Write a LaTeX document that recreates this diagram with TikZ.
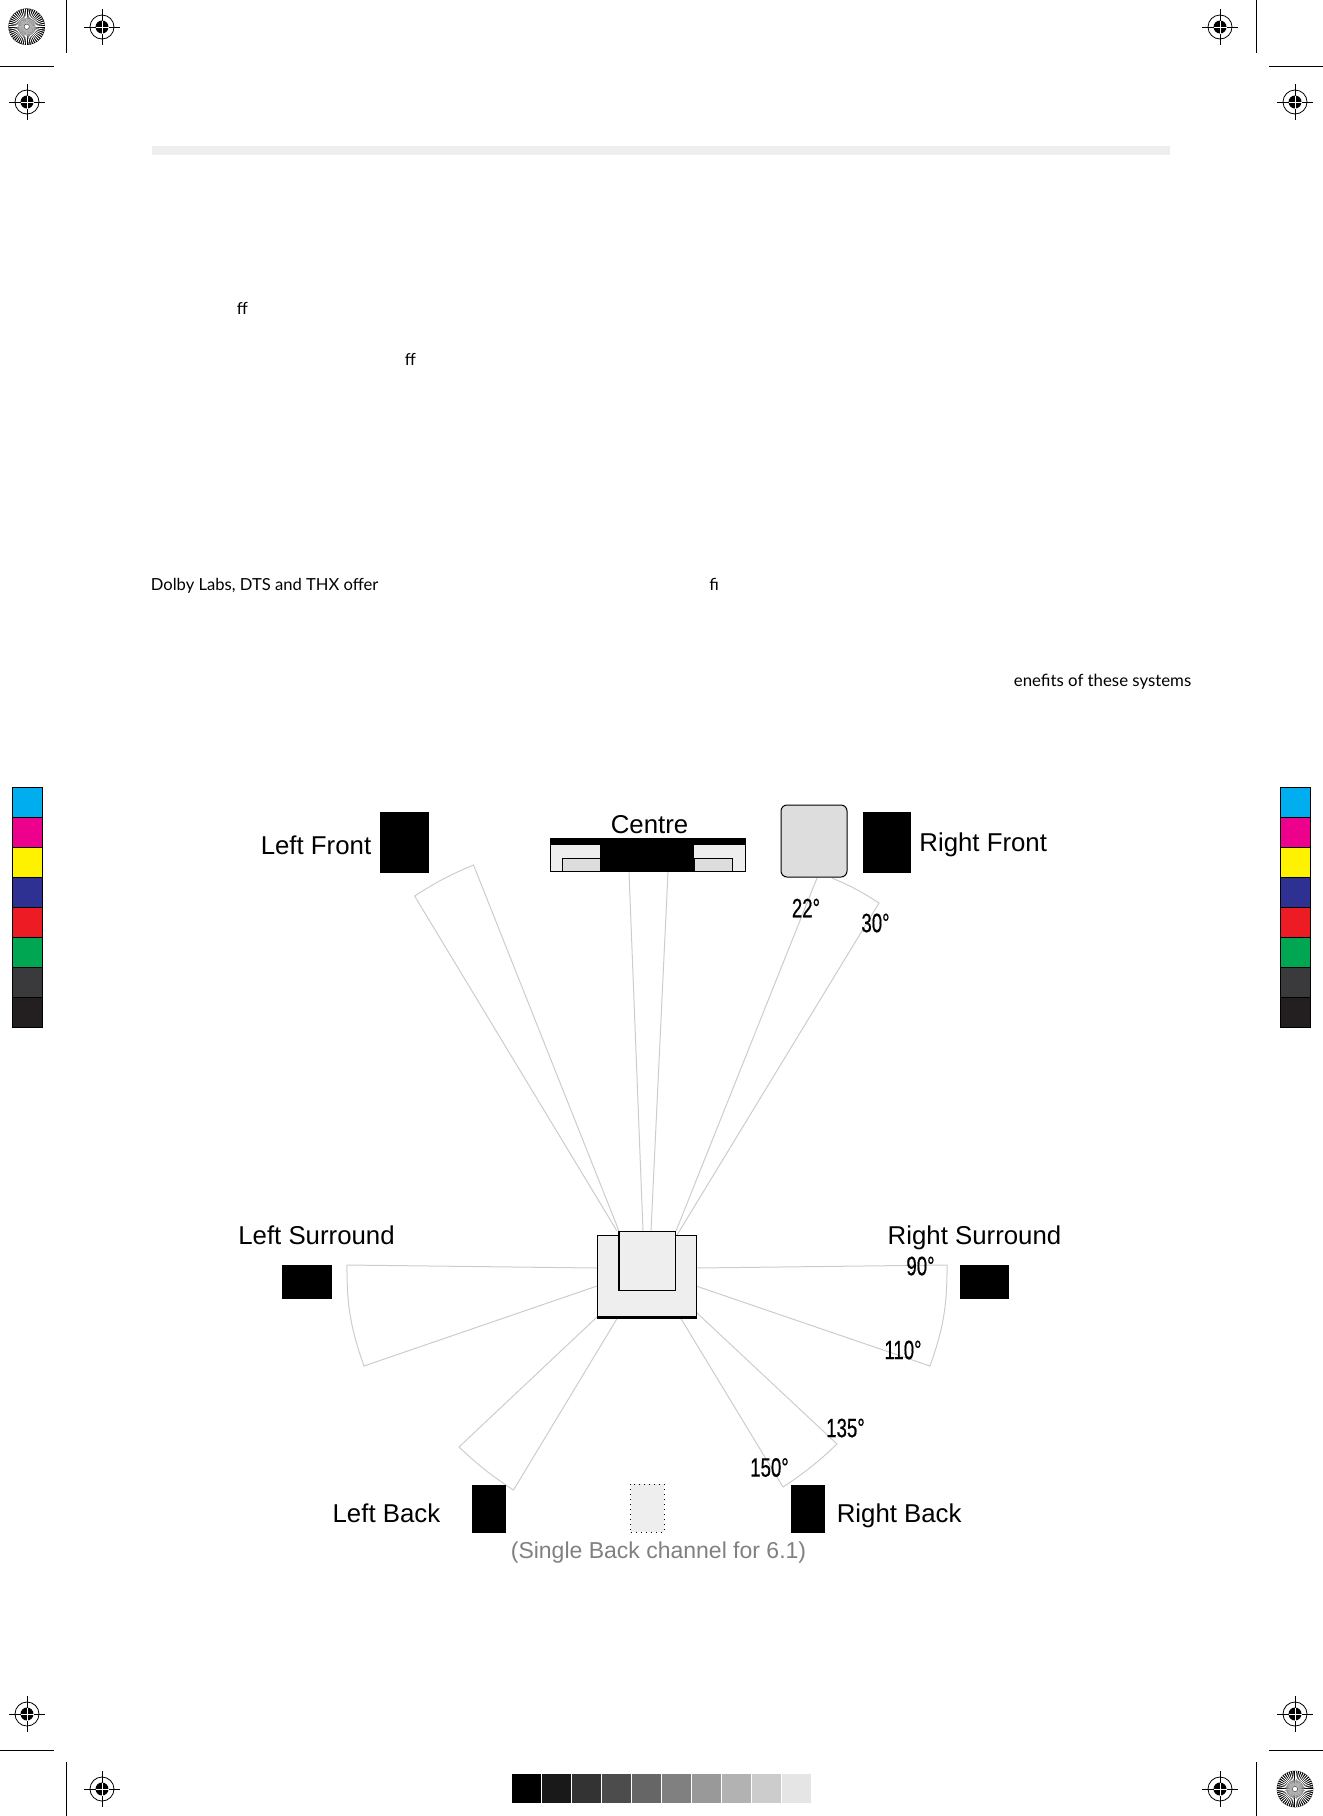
\documentclass[tikz,border=0pt]{standalone}
\usepackage{fontspec}
\usepackage{xcolor}
\setmainfont{Liberation Sans}
\newfontfamily\bodyfont{Lato}
\newfontfamily\degfont[FakeStretch=0.7,FakeBold=0.5]{Liberation Sans}
\usetikzlibrary{positioning}
\definecolor{pcyan}{HTML}{00AEEF}
\definecolor{pmagenta}{HTML}{EC008C}
\definecolor{pyellow}{HTML}{FFF200}
\definecolor{pblue}{HTML}{2E3192}
\definecolor{pred}{HTML}{ED1C24}
\definecolor{pgreen}{HTML}{00A651}
\definecolor{pdark}{HTML}{3A3A3C}
\definecolor{pblack}{HTML}{231F20}
\definecolor{panel}{HTML}{EEEEEE}
\definecolor{inset}{HTML}{DDDDDD}

\begin{document}
\begin{tikzpicture}[x=0.5pt, y=-0.5pt,
    speaker/.style={fill=black, inner sep=0},
    boxed/.style={draw=black, line width=0.5pt, fill=panel, inner sep=0},
    beam/.style={draw=black!20, line width=0.5pt},
    spklabel/.style={inner sep=0, text height=9pt, text depth=2.5pt, font=\fontsize{12.9}{15}\selectfont},
    deglabel/.style={inner sep=0, font=\degfont\fontsize{13.3}{15}\selectfont},
    bodytext/.style={inner sep=0, anchor=base west, font=\bodyfont\fontsize{8.3}{10}\selectfont},
    patch/.style={draw=black, line width=0.5pt, inner sep=0, minimum width=14.8pt, minimum height=15pt},
    regmark/.pic={
        \draw[line width=0.4pt] (0,0) circle [radius=12];
        \draw[line width=0.5pt] (-18,0) -- (18,0) (0,-18) -- (0,18);
        \fill (0,0) circle [radius=6.5];
        \draw[white, line width=0.5pt] (-6.5,0) -- (6.5,0) (0,-6.5) -- (0,6.5);
    },
    wheel/.pic={
        \fill (0,0) circle [radius=18.3];
        \foreach \a in {0,7.5,...,352.5}
            \draw[white, line width=0.4pt] (\a:3) -- (\a:18);
        \fill[black!50, opacity=0.6] (0,0) circle [radius=9];
        \fill[white] (0,0) circle [radius=2.2];
    }]
    \useasboundingbox (0,0) rectangle (1323,1816);

    \pic at (26.7,26.7) {wheel};
    \pic at (1295,1789) {wheel};
    \foreach \x/\y in {102/27, 27/102, 1220/27, 1295/102, 27/1714, 102/1789, 1295/1714, 1220/1789}
        \pic at (\x,\y) {regmark};
    \foreach \x in {66,1256} {
        \draw[line width=0.5pt] (\x,0) -- (\x,53);
        \draw[line width=0.5pt] (\x,1762) -- (\x,1816);
    }
    \foreach \y in {66,1750} {
        \draw[line width=0.5pt] (0,\y) -- (54,\y);
        \draw[line width=0.5pt] (1269,\y) -- (1323,\y);
    }

    \foreach \x/\n in {27.5/l, 1295.5/r}
        \foreach \c [count=\i from 0] in {pcyan,pmagenta,pyellow,pblue,pred,pgreen,pdark,pblack}
            \node [patch, fill=\c] (strip\n\i) at (\x,{802+30*\i}) {};
    \foreach \g [count=\i from 0] in {100,90,...,10}
        \node [fill=black!\g, inner sep=0, minimum size=14.5pt] (grey\i) at ({526.5+30*\i},1788) {};

    \node [fill=panel, inner sep=0, minimum width=509pt, minimum height=4.5pt] (topbar) at (661,150.5) {};
    \node [bodytext] (ffa) at (236.5,314.5) {ff};
    \node [bodytext] (ffb) at (404.5,365.5) {ff};
    \node [bodytext] (dolby) at (150.5,590) {Dolby Labs, DTS and THX offer};
    \node [bodytext] (fi) at (709,590) {fi};
    \node [bodytext, font=\bodyfont\fontsize{8.4}{10}\selectfont] (benefits) at (1013.5,686) {enefits of these systems};

    \path [beam] (414.6,896) -- (617,1231) (414.6,896) to[bend left=5] (473.5,865) -- (619,1231);
    \path [beam] (629,872) -- (643,1231) (668,872) -- (651,1231);
    \path [beam] (817,878) -- (676,1231) (832,878) to[bend left=5] (879,903) -- (677,1235);
    \path [beam] (597,1268) -- (347,1265) to[bend right=10] (364,1366) -- (597,1286);
    \path [beam] (696,1268) -- (947,1265) to[bend left=10] (930,1366) -- (696,1286);
    \path [beam] (597,1317) -- (459,1447) to[bend right=5] (513.5,1490) -- (618,1317);
    \path [beam] (696,1312) -- (837,1444) to[bend left=5] (783,1487) -- (680,1317);

    \node [speaker, minimum width=24.5pt, minimum height=30.5pt] (leftfront) at (404.5,842.5) {};
    \node [speaker, minimum width=24pt, minimum height=30.5pt] (rightfront) at (887,842.5) {};
    \node [boxed, fill=inset, rounded corners=3pt, minimum width=33pt, minimum height=36pt] (rightbox) at (814,841) {};
    \node [boxed, minimum width=97.5pt, minimum height=16.35pt] (centre) at (647.5,855.3) {};
    \node [boxed, fill=inset, minimum width=19pt, minimum height=6.85pt] (centrel) at (581,864.85) {};
    \node [boxed, fill=inset, minimum width=19pt, minimum height=6.85pt] (centrer) at (713,864.85) {};
    \node [speaker, minimum width=97.5pt, minimum height=3pt] (centreband) at (647.5,842) {};
    \node [speaker, minimum width=47pt, minimum height=16.35pt] (centremid) at (647,855.3) {};
    \node [speaker, minimum width=25pt, minimum height=17pt] (leftsur) at (307,1282) {};
    \node [speaker, minimum width=24.5pt, minimum height=17pt] (rightsur) at (984.5,1282) {};
    \node [speaker, minimum width=17pt, minimum height=24pt] (leftback) at (489,1509) {};
    \node [speaker, minimum width=17pt, minimum height=24pt] (rightback) at (808,1509) {};
    \node [draw=black, dotted, line width=0.5pt, fill=panel, inner sep=0, minimum width=16.7pt, minimum height=24pt] (single) at (647.3,1508) {};

    \node [boxed, minimum width=49.5pt, minimum height=41pt] (seat) at (646.5,1276) {};
    \draw [line width=1.3pt] (seat.south west) -- (seat.south east);
    \node [boxed, minimum width=28pt, minimum height=29.5pt] (head) at (647,1260.5) {};
    \draw [line width=1pt] (head.north west) -- (head.south west);

    \node [spklabel, left=4pt of leftfront, yshift=-2.5pt] (lftext) {Left Front};
    \node [spklabel, right=3.8pt of rightfront, yshift=-1pt] (rftext) {Right Front};
    \node [spklabel, above=-0.4pt of centre, xshift=1pt] (ctext) {Centre};
    \node [spklabel, above=7.5pt of leftsur, xshift=4.75pt] (lstext) {Left Surround};
    \node [spklabel, above=7.5pt of rightsur, xshift=-5pt] (rstext) {Right Surround};
    \node [spklabel, left=15.5pt of leftback, yshift=-3.25pt] (lbtext) {Left Back};
    \node [spklabel, right=5.5pt of rightback, yshift=-3.25pt] (rbtext) {Right Back};
    \node [spklabel, below=4pt of single, xshift=5.6pt, text=black!50, font=\fontsize{11.5}{14}\selectfont] (singletext) {(Single Back channel for 6.1)};

    \node [deglabel] (d22) at (806,908) {22°};
    \node [deglabel] (d30) at (875.5,923) {30°};
    \node [deglabel] (d90) at (920.5,1266) {90°};
    \node [deglabel] (d110) at (903,1350) {110°};
    \node [deglabel] (d135) at (845.5,1428) {135°};
    \node [deglabel] (d150) at (769.5,1467.5) {150°};
\end{tikzpicture}
\end{document}
